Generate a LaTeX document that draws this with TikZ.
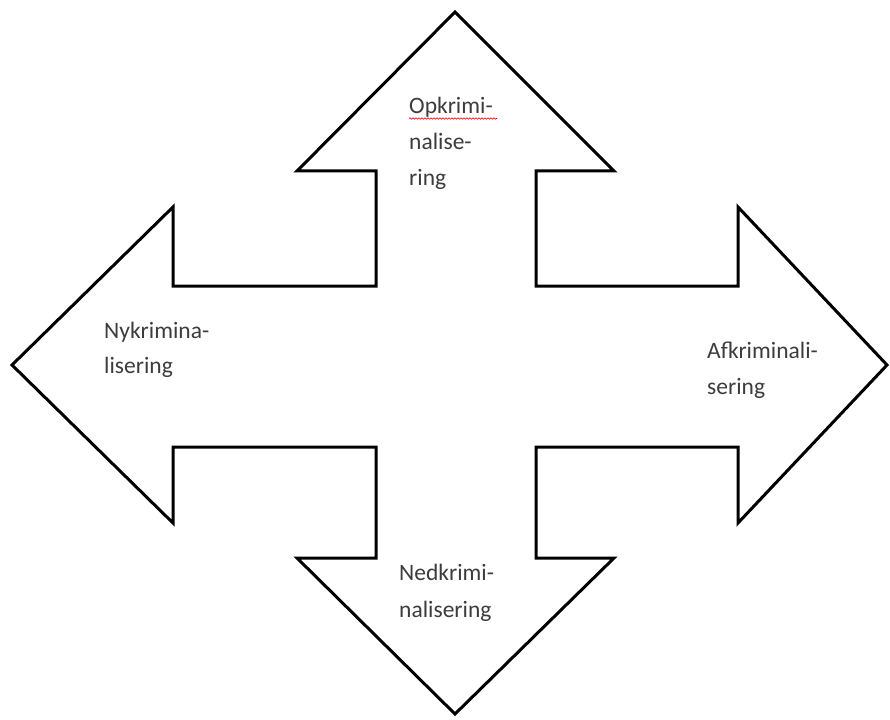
\documentclass[tikz,border=0pt]{standalone}
\usepackage{fontspec}
\setmainfont{Carlito}
\usetikzlibrary{decorations.pathmorphing}
\definecolor{txt}{HTML}{3C3C3C}
\tikzset{
  outline/.style={draw=black, line width=3pt, fill=white, line join=miter},
  lbl/.style={anchor=base west, inner sep=0pt, text=txt, font=\fontsize{23.5}{36}\selectfont},
  spell/.style={draw=red!80!black, line width=0.6pt, decorate, decoration={snake, amplitude=0.7pt, segment length=3pt}}
}
\begin{document}
\begin{tikzpicture}[x=1pt,y=-1pt]
\useasboundingbox (0,0) rectangle (890,719);
\draw[outline] (455,12) -- (614,171) -- (536,171) -- (536,286) -- (738,286) -- (738,207)
  -- (887,365) -- (738,523) -- (738,447) -- (536,447) -- (536,558) -- (614,558)
  -- (455,714) -- (297,558) -- (376,558) -- (376,447) -- (173,447) -- (173,523)
  -- (12,365) -- (173,207) -- (173,286) -- (376,286) -- (376,171) -- (297,171) -- cycle;
% top
\node[lbl] (op1) at (409,114) {Opkrimi-};
\node[lbl] (op2) at (409,150) {nalise-};
\node[lbl] (op3) at (409,186) {ring};
\coordinate (sp1) at (409,118.5);
\coordinate (sp2) at (497,118.5);
\draw[spell] (sp1) -- (sp2);
% left
\node[lbl] (ny1) at (104,338) {Nykrimina-};
\node[lbl] (ny2) at (104,373) {lisering};
% right
\node[lbl] (af1) at (707,358) {Afkriminali-};
\node[lbl] (af2) at (707,394) {sering};
% bottom
\node[lbl] (ne1) at (399,580) {Nedkrimi-};
\node[lbl] (ne2) at (399,617) {nalisering};
\end{tikzpicture}
\end{document}
